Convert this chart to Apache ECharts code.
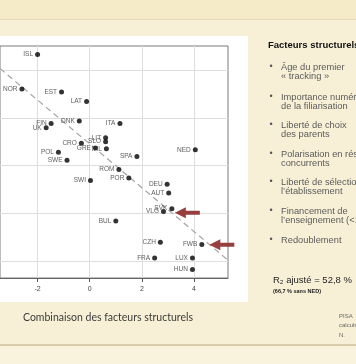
<!DOCTYPE html>
<html><head><meta charset="utf-8">
<script src="https://cdn.jsdelivr.net/npm/echarts@6/dist/echarts.min.js"></script>
<style>html,body{margin:0;padding:0;background:#f8f0d6;overflow:hidden}#c{width:356px;height:364px;}</style>
</head><body><div id="c"></div>
<script>
// ---- data ----
const countries = ['ISL','NOR','EST','LAT','FIN','UK','DNK','ITA','CRO','POL','SWE','LIT','SLO','GRE','IRL','NED','SPA','ROM','POR','SWI','DEU','AUT','SVK','VLG','BUL','CZH','FWB','FRA','LUX','HUN'];
const xValues = [-2.00,-2.60,-1.08,-0.12,-1.48,-1.67,-0.40,1.16,-0.32,-1.20,-0.87,0.61,0.61,0.22,0.64,4.05,1.81,1.12,1.50,0.03,2.97,3.03,3.15,2.83,1.00,2.71,4.30,2.49,3.94,3.94];
const yValues = [2.32,1.60,1.54,1.34,0.88,0.79,0.93,0.88,0.47,0.28,0.11,0.58,0.50,0.37,0.35,0.33,0.19,-0.08,-0.26,-0.31,-0.39,-0.57,-0.90,-0.96,-1.16,-1.60,-1.65,-1.93,-1.93,-2.17];
const regX = [-3.44, 5.27];
const regY = [2.03, -1.96];
const arrowTargets = ['SVK','FWB'];
const xAxisTitle = 'Combinaison des facteurs structurels';
const panelTitle = 'Facteurs structurels';
const bullets = [
  ['Âge du premier','« tracking »'],
  ['Importance numérique','de la filiarisation'],
  ['Liberté de choix','des parents'],
  ['Polarisation en réseaux','concurrents'],
  ['Liberté de sélection de','l\u2019établissement'],
  ['Financement de','l\u2019enseignement (<15 ans)'],
  ['Redoublement']
];
const r2Text = 'R\u2082 ajusté = 52,8 %';
const r2Sub = '(66,7 % sans NED)';
const sourceLines = ['PISA','calculs','N.'];

const chart = echarts.init(document.getElementById('c'), null, {renderer:'canvas'});
const points = countries.map((c,i)=>({name:c, value:[xValues[i], yValues[i]]}));

const graphics = [
  {type:'rect', shape:{x:0,y:0,width:356,height:19}, style:{fill:'#f6ebc8'}, z:-20, silent:true},
  {type:'rect', shape:{x:0,y:19,width:356,height:1}, style:{fill:'#e6dbb5'}, z:-20, silent:true},
  {type:'rect', shape:{x:0,y:344,width:356,height:2}, style:{fill:'#d6cca9'}, z:-20, silent:true},
  {type:'rect', shape:{x:0,y:346,width:356,height:18}, style:{fill:'#f9f2dc'}, z:-20, silent:true},
  {type:'rect', shape:{x:0,y:36,width:248,height:266}, style:{fill:'#ffffff'}, z:-10, silent:true},
  {type:'text', x:108, y:318, style:{text:xAxisTitle, font:'10.5px Lato', fill:'#3a3a3a', textAlign:'center', textVerticalAlign:'middle'}, z:50},
  {type:'text', x:268, y:45, style:{text:panelTitle, font:'bold 9.5px "Liberation Sans", Arial', fill:'#111', textVerticalAlign:'middle'}, z:50}
];
const bulletY = [67, 97, 125, 154, 182, 211, 240];
bullets.forEach((b,i)=>{
  graphics.push({type:'text', x:271, y:bulletY[i], style:{text:'•', font:'9px "Liberation Sans", Arial', fill:'#555', textAlign:'center', textVerticalAlign:'middle'}, z:50});
  b.forEach((line,j)=>{
    graphics.push({type:'text', x:281, y:bulletY[i]+j*9.7, style:{text:line, font:'9.3px "Liberation Sans", Arial', fill:'#5a5a5a', textVerticalAlign:'middle'}, z:50});
  });
});
graphics.push({type:'text', x:273, y:280, style:{text:r2Text, font:'9.5px "Liberation Sans", Arial', fill:'#222', textVerticalAlign:'middle'}, z:50});
graphics.push({type:'text', x:273, y:291, style:{text:r2Sub, font:'bold 5.5px "Liberation Sans", Arial', fill:'#222', textVerticalAlign:'middle'}, z:50});
sourceLines.forEach((s,i)=>{
  graphics.push({type:'text', x:339, y:316+i*9.5, style:{text:s, font:'6px "Liberation Sans", Arial', fill:'#666', textVerticalAlign:'middle'}, z:50});
});

const option = {
  animation:false,
  backgroundColor:'#f8f0d6',
  grid:{left:-2, right:128, top:46, bottom:86, show:true, borderColor:'#7a7a7a', borderWidth:1, backgroundColor:'#ffffff', containLabel:false},
  xAxis:{type:'value', min:-3.441, max:5.304, splitNumber:4,
    axisLine:{show:true, onZero:false, lineStyle:{color:'#666', width:1}},
    axisTick:{show:true, length:4, lineStyle:{color:'#555'}},
    axisLabel:{show:true, showMinLabel:false, showMaxLabel:false, color:'#444', fontSize:7, fontFamily:'"Liberation Sans", Arial', margin:8,
      formatter:v=> (Math.abs(v-Math.round(v))<1e-6 ? String(v) : '')},
    splitLine:{show:true, showMinLine:false, showMaxLine:false, lineStyle:{color:'#dedede', width:1}}},
  yAxis:{type:'value', min:-2.349, max:2.5, splitNumber:5,
    axisLine:{show:false}, axisTick:{show:false}, axisLabel:{show:false},
    splitLine:{show:true, showMinLine:false, showMaxLine:false, lineStyle:{color:'#dedede', width:1}}},
  graphic: graphics,
  series:[
    {type:'line', data:regX.map((x,i)=>[x, regY[i]]), symbol:'none', silent:true, z:1,
      lineStyle:{color:'#a3a3a3', width:1.2, type:[6,4]}},
    {type:'scatter', data:points, symbol:'circle', symbolSize:5, itemStyle:{color:'#000'}, z:3,
      label:{show:true, position:'left', distance:2, formatter:'{b}', fontSize:6.5, color:'#333', fontFamily:'"Liberation Sans", Arial'}}
  ]
};
chart.setOption(option);

// annotation arrows pointing at the highlighted points
const arrowOffsets = {SVK:[3,4], FWB:[7.5,0.3]};
const arrowG = [];
arrowTargets.forEach(name=>{
  const i = countries.indexOf(name);
  const p = chart.convertToPixel({gridIndex:0}, [xValues[i], yValues[i]]);
  const tx = p[0]+arrowOffsets[name][0], ty = p[1]+arrowOffsets[name][1];
  const L=25, H=11, hh=5.5, sh=2;
  arrowG.push({type:'polygon', z:60, shape:{points:[[tx,ty],[tx+H,ty-hh],[tx+H,ty-sh],[tx+L,ty-sh],[tx+L,ty+sh],[tx+H,ty+sh],[tx+H,ty+hh]]}, style:{fill:'#973f3f'}});
});
chart.setOption({graphic: graphics.concat(arrowG)});
</script></body></html>
